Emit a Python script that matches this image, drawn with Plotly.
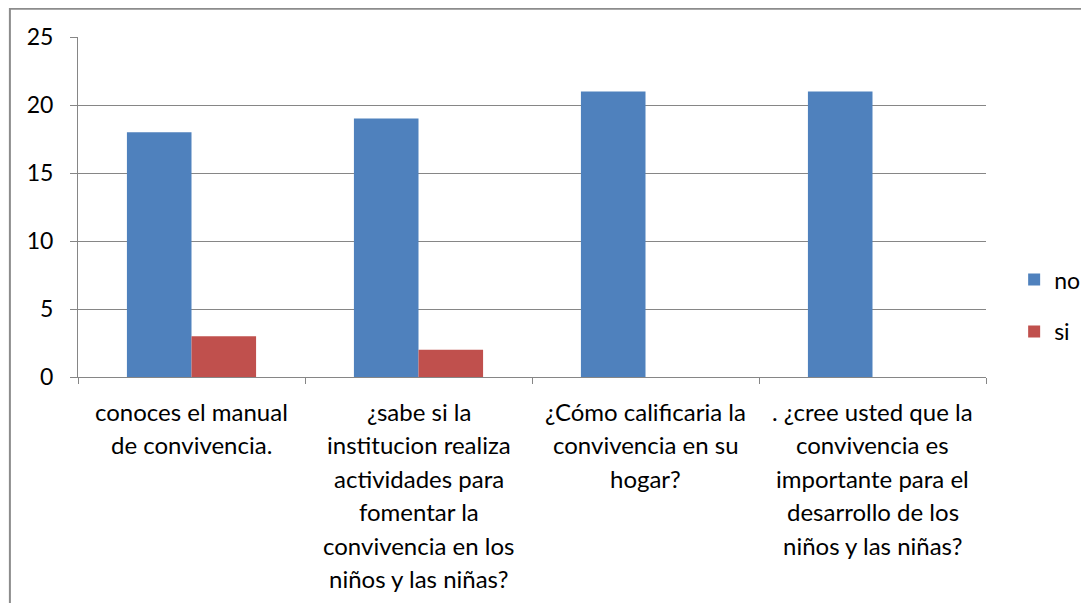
import plotly.graph_objects as go

categories = ["c1", "c2", "c3", "c4"]
category_lines = [
    ["conoces el manual", "de convivencia."],
    ["¿sabe si la", "institucion realiza", "actividades para", "fomentar la",
     "convivencia en los", "niños y las niñas?"],
    ["¿Cómo calificaria la", "convivencia en su", "hogar?"],
    [". ¿cree usted que la", "convivencia es", "importante para el",
     "desarrollo de los", "niños y las niñas?"],
]
no_values = [18, 19, 21, 21]
si_values = [3, 2, 0, 0]
y_ticks = [0, 5, 10, 15, 20, 25]

FONT = "Lato"
fig = go.Figure()
fig.add_trace(go.Bar(name="no", x=categories, y=no_values, marker_color="#4F81BD",
                     marker_line_width=0, legendgroup="a"))
fig.add_trace(go.Bar(name="si", x=categories, y=si_values, marker_color="#C0504D",
                     marker_line_width=0, legendgroup="b"))

annotations = []
for cat, lines in zip(categories, category_lines):
    for i, line in enumerate(lines):
        annotations.append(dict(
            x=cat, xref="x", y=0, yref="paper", yanchor="middle",
            yshift=-(34 + i * 33.5), text=line, showarrow=False,
            font=dict(family=FONT, size=24, color="#000000"),
        ))

fig.update_layout(
    width=1089, height=603,
    margin=dict(l=70, r=109, t=29, b=234),
    paper_bgcolor="white", plot_bgcolor="white",
    barmode="group", bargap=0.431, bargroupgap=0,
    font=dict(family=FONT, size=23, color="#000000"),
    showlegend=True,
    legend=dict(x=1.031, xanchor="left", y=0.21, yanchor="middle",
                tracegroupgap=19, font=dict(family=FONT, size=23),
                bgcolor="rgba(0,0,0,0)"),
    annotations=annotations,
    shapes=[dict(type="rect", xref="paper", yref="paper",
                 x0=-0.075, x1=1.3, y0=-0.8, y1=1.083,
                 line=dict(color="#8C8C8C", width=2), layer="below")],
)
fig.update_xaxes(
    showticklabels=False, tickson="boundaries", ticks="outside", ticklen=6,
    tickcolor="#868686", showline=True, linecolor="#868686", linewidth=1,
    showgrid=False, range=[-0.5, 3.5],
)
fig.update_yaxes(
    range=[0, 25], tickvals=y_ticks, ticks="outside", ticklen=7,
    tickcolor="#868686", showline=True, linecolor="#868686", linewidth=1,
    showgrid=True, gridcolor="#868686", gridwidth=1, zeroline=False,
    tickfont=dict(family=FONT, size=23), ticklabelstandoff=12,
)
fig.write_html("out.html")
